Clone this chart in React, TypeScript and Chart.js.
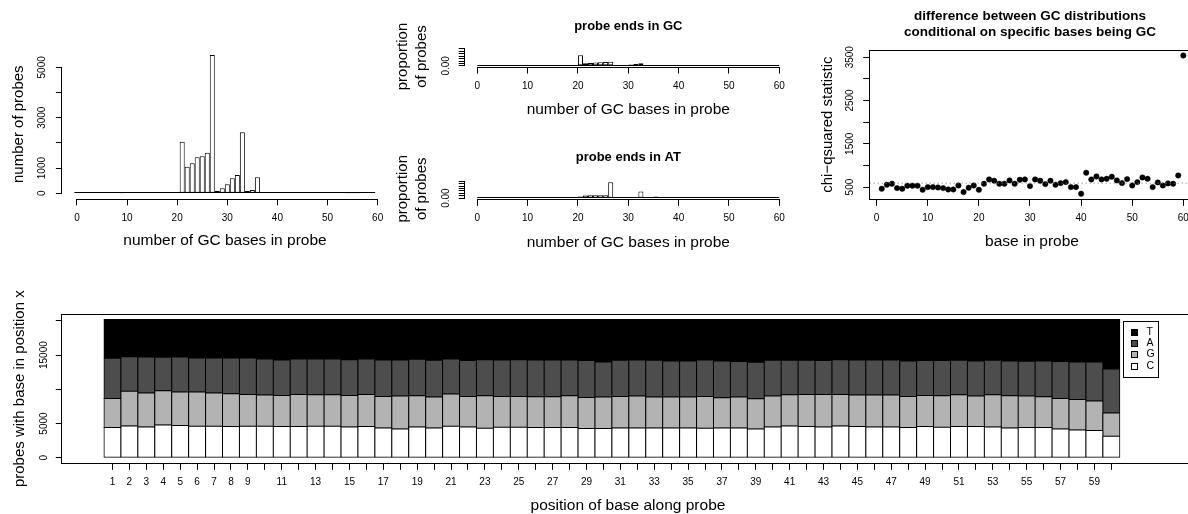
import React, { useEffect, useRef } from 'react';
import { Chart, registerables } from 'chart.js';

Chart.register(...registerables);

const FONT = '"Liberation Sans", Arial, Helvetica, sans-serif';

// ---------- Panel 1: number of GC bases per probe (bins centred on integers)
const gcBases = [0,1,2,3,4,5,6,7,8,9,10,11,12,13,14,15,16,17,18,19,20,21,22,23,24,25,26,27,28,29,30,31,32,33,34,35,36,37,38,39,40,41,42,43,44,45,46,47,48,49,50,51,52,53,54,55,56,57,58,59];
const probeCounts = [0,0,0,0,0,0,0,0,0,5,8,10,12,15,20,25,30,35,50,30,25,2050,1056,1190,1428,1468,1611,5488,103,198,357,595,726,2420,91,131,635,30,35,40,40,40,35,30,25,20,15,12,10,10,8,8,6,10,4,2,1,0,0,0];
const p1XTicks = [0,10,20,30,40,50,60];
const p1YTicks = [0,1000,2000,3000,4000,5000];
const p1YLabelled = [0,1000,3000,5000];

// ---------- Panel 2: GC distribution by probe end (bins (k-1, k])
const binUpper = [1,2,3,4,5,6,7,8,9,10,11,12,13,14,15,16,17,18,19,20,21,22,23,24,25,26,27,28,29,30,31,32,33,34,35,36,37,38,39,40,41,42,43,44,45,46,47,48,49,50,51,52,53,54,55,56,57,58,59,60];
const propEndsGC = [0,0,0,0,0,0,0,0,0,0,0.001,0.001,0.002,0.002,0.003,0.003,0.004,0.005,0.004,0.004,0.22,0.055,0.06,0.068,0.075,0.08,0.085,0.01,0.01,0.014,0.028,0.04,0.055,0.005,0.008,0.014,0.004,0.003,0.003,0.003,0.002,0.002,0.002,0.001,0.001,0,0,0,0,0,0,0,0,0,0,0,0,0,0,0];
const propEndsAT = [0,0,0,0,0,0,0,0,0,0,0.002,0.002,0.003,0.003,0.004,0.004,0.005,0.006,0.005,0.005,0.035,0.055,0.062,0.062,0.062,0.062,0.33,0.005,0.008,0.01,0.014,0.02,0.138,0.004,0.006,0.035,0.003,0.003,0.004,0.004,0.003,0.003,0.002,0.002,0.001,0,0,0,0,0,0,0,0,0,0,0,0,0,0,0];
const p2XTicks = [0,10,20,30,40,50,60];
const p2YTicks = [0,0.05,0.1,0.15,0.2,0.25,0.3,0.35];

// ---------- Panel 3: chi-squared statistic per base position
const positions = [1,2,3,4,5,6,7,8,9,10,11,12,13,14,15,16,17,18,19,20,21,22,23,24,25,26,27,28,29,30,31,32,33,34,35,36,37,38,39,40,41,42,43,44,45,46,47,48,49,50,51,52,53,54,55,56,57,58,59,60];
const chiSq = [462,554,577,477,462,531,531,531,438,500,500,492,477,446,446,538,385,485,538,438,577,677,646,577,577,654,577,669,677,523,677,646,569,646,554,592,615,500,500,346,831,677,746,677,692,738,654,592,685,538,615,723,692,500,608,538,585,577,769,3538];
const chiCritical = 590;
const p3XTicks = [0,10,20,30,40,50,60];
const p3YTicks = [500,1000,1500,2000,2500,3000,3500];
const p3YLabelled = [500,1500,2500,3500];

// ---------- Panel 4: base composition at each position
const countC = [4409,4651,4506,4797,4700,4603,4603,4554,4603,4603,4554,4554,4603,4603,4506,4554,4361,4215,4506,4361,4603,4506,4312,4457,4457,4409,4409,4409,4264,4264,4361,4361,4361,4361,4361,4312,4361,4361,4215,4506,4651,4554,4506,4651,4554,4506,4506,4409,4554,4457,4554,4554,4506,4361,4409,4409,4215,4070,3973,3149];
const countG = [4264,5087,4942,4990,4893,4990,4845,4797,4651,4554,4555,4700,4603,4603,4603,4700,4602,4797,4554,4506,4699,4457,4748,4506,4506,4506,4506,4651,4554,4603,4602,4651,4506,4506,4506,4651,4409,4506,4409,4506,4555,4700,4748,4603,4603,4651,4651,4554,4555,4603,4652,4458,4700,4699,4603,4506,4458,4457,4312,3392];
const countA = [5862,5039,5281,4893,5136,4991,5136,5233,5330,5281,5184,5184,5232,5232,5232,5184,5330,5281,5330,5377,5136,5233,5281,5330,5378,5378,5378,5233,5378,5135,5281,5281,5377,5280,5280,5330,5377,5183,5330,5232,5038,4990,4942,5087,5136,5136,5136,5184,5087,5136,5038,5135,5038,5087,5087,5232,5377,5475,5717,6444];
const countT = [5665,5423,5471,5520,5471,5616,5616,5616,5616,5762,5907,5762,5762,5762,5859,5762,5907,5907,5810,5956,5762,6004,5859,5907,5859,5907,5907,5907,6004,6198,5956,5907,5956,6053,6053,5907,6053,6150,6246,5956,5956,5956,6004,5859,5907,5907,5907,6053,6004,6004,5956,6053,5956,6053,6101,6053,6150,6198,6198,7215];
const baseNames = ['C', 'G', 'A', 'T'];
const baseColors = ['#ffffff', '#b3b3b3', '#4d4d4d', '#000000'];
const p4YTicks = [0,5000,10000,15000,20000];
const p4YLabelled = [0,5000,15000];

// ---------- styling constants
const TICK = 10;
const TL = 6.5;
const XGAP = 19.3;
const LAB = 15.5;
const VLAB = 15;

function textWidth(s: string, size: number): number {
  const ctx = document.createElement('canvas').getContext('2d') as CanvasRenderingContext2D;
  ctx.font = `${size}px ${FONT}`;
  return ctx.measureText(s).width;
}

const gridOpts = { display: true, offset: false, drawOnChartArea: false, drawTicks: true, tickLength: TL, color: '#000', lineWidth: 1 };

function xScale(min: number, max: number, ticks: number[], label: (v: number) => string, height: number, extra: any = {}) {
  return {
    type: 'linear', min, max, bounds: 'data', offset: false,
    afterBuildTicks: (s: any) => { s.ticks = ticks.map((v) => ({ value: v })); },
    afterFit: (s: any) => { s.height = height; },
    grid: gridOpts,
    border: { display: false },
    ticks: {
      autoSkip: false, minRotation: 0, maxRotation: 0,
      padding: XGAP - TL - TICK * 0.6,
      color: '#000', font: { family: FONT, size: TICK },
      callback: (v: any) => label(Number(v)),
    },
    ...extra,
  };
}

function yScale(min: number, max: number, ticks: number[], label: (v: number) => string, width: number, dist: number, extra: any = {}) {
  const widest = Math.max(...ticks.map((v) => textWidth(label(v), TICK)));
  return {
    type: 'linear', min, max, bounds: 'data',
    afterBuildTicks: (s: any) => { s.ticks = ticks.map((v) => ({ value: v })); },
    afterFit: (s: any) => { s.width = width; },
    grid: gridOpts,
    border: { display: false },
    ticks: {
      autoSkip: false, minRotation: 90, maxRotation: 90, crossAlign: 'center',
      padding: dist - TL - widest / 2,
      color: '#000', font: { family: FONT, size: TICK },
      callback: (v: any) => label(Number(v)),
    },
    ...extra,
  };
}

type Txt = { t: string; x: number; y: number; size: number; bold?: boolean; rot?: boolean };
type Legend = { box: [number, number, number, number]; rows: number[]; sqX: number; sq: number; txtX: number; size: number; items: { label: string; color: string }[] };
type Decor = { ox: number; oy: number; axisX?: [number, number]; axisY?: [number, number]; box?: boolean; baseline?: [number, number]; texts: Txt[]; legend?: Legend };

function decor(d: Decor) {
  return {
    id: 'rdecor',
    afterDatasetsDraw(chart: any) {
      if (!d.baseline) return;
      const { ctx, scales } = chart;
      const y = Math.round(scales.y.getPixelForValue(0)) - 0.5;
      ctx.save();
      ctx.strokeStyle = '#000';
      ctx.lineWidth = 1;
      ctx.beginPath();
      ctx.moveTo(scales.x.getPixelForValue(d.baseline[0]), y);
      ctx.lineTo(scales.x.getPixelForValue(d.baseline[1]), y);
      ctx.stroke();
      ctx.restore();
    },
    afterDraw(chart: any) {
      const { ctx, chartArea: a, scales } = chart;
      ctx.save();
      ctx.strokeStyle = '#000';
      ctx.lineWidth = 1;
      ctx.setLineDash([]);
      if (d.axisX) {
        const y = Math.round(a.bottom) + 0.5;
        const x0 = Math.round(scales.x.getPixelForValue(d.axisX[0]) - 0.5);
        const x1 = Math.round(scales.x.getPixelForValue(d.axisX[1]) - 0.5) + 1;
        ctx.beginPath(); ctx.moveTo(x0, y); ctx.lineTo(x1, y); ctx.stroke();
      }
      if (d.axisY) {
        const x = Math.round(a.left) - 0.5;
        const y0 = Math.round(scales.y.getPixelForValue(d.axisY[0]) - 0.5) + 1;
        const y1 = Math.round(scales.y.getPixelForValue(d.axisY[1]) - 0.5);
        ctx.beginPath(); ctx.moveTo(x, y0); ctx.lineTo(x, y1); ctx.stroke();
      }
      if (d.box) {
        const l = Math.round(a.left) - 0.5, t = Math.round(a.top) + 0.5;
        const r = Math.round(a.right) + 0.5, b = Math.round(a.bottom) + 0.5;
        ctx.strokeRect(l, t, r - l, b - t);
      }
      ctx.fillStyle = '#000';
      ctx.textAlign = 'center';
      ctx.textBaseline = 'middle';
      for (const t of d.texts) {
        ctx.save();
        ctx.font = `${t.bold ? 'bold ' : ''}${t.size}px ${FONT}`;
        ctx.translate(t.x - d.ox, t.y - d.oy);
        if (t.rot) ctx.rotate(-Math.PI / 2);
        ctx.fillText(t.t, 0, 0);
        ctx.restore();
      }
      if (d.legend) {
        const L = d.legend;
        const [bx0, by0, bx1, by1] = L.box;
        ctx.strokeRect(Math.round(bx0 - d.ox) + 0.5, Math.round(by0 - d.oy) + 0.5, Math.round(bx1 - bx0), Math.round(by1 - by0));
        ctx.font = `${L.size}px ${FONT}`;
        ctx.textAlign = 'left';
        L.items.forEach((it, i) => {
          const cy = L.rows[i] - d.oy;
          const sx = Math.round(L.sqX - d.ox - L.sq / 2) + 0.5;
          const sy = Math.round(cy - L.sq / 2) + 0.5;
          ctx.fillStyle = it.color;
          ctx.fillRect(sx, sy, L.sq, L.sq);
          ctx.strokeRect(sx, sy, L.sq, L.sq);
          ctx.fillStyle = '#000';
          ctx.fillText(it.label, L.txtX - d.ox, cy);
        });
      }
      ctx.restore();
    },
  };
}

function frame(ox: number, oy: number, cw: number, ch: number, L: number, R: number, T: number, B: number) {
  return {
    padding: { left: 0, top: T - oy, right: cw - (R - ox), bottom: 0 },
    yW: L - ox,
    xH: ch - (B - oy),
  };
}

function baseOptions(padding: any, scales: any) {
  return {
    responsive: false,
    maintainAspectRatio: false,
    animation: false,
    devicePixelRatio: 1,
    events: [],
    layout: { padding },
    plugins: { legend: { display: false }, title: { display: false }, tooltip: { enabled: false } },
    scales,
  };
}

const histStyle = {
  backgroundColor: '#ffffff', borderColor: '#000000', borderWidth: 1, borderSkipped: false,
  inflateAmount: 0, barPercentage: 1, categoryPercentage: 1,
};

function panel1(ox: number, oy: number, cw: number, ch: number) {
  const f = frame(ox, oy, cw, ch, 62.4, 387.2, 49.5, 198.8);
  return {
    type: 'bar',
    data: { datasets: [{ ...histStyle, data: gcBases.map((g, i) => ({ x: g, y: probeCounts[i] })) }] },
    options: baseOptions(f.padding, {
      x: xScale(-2.9, 61.9, p1XTicks, (v) => String(v), f.xH),
      y: yScale(-219.5, 5707.5, p1YTicks, (v) => (p1YLabelled.includes(v) ? String(v) : ''), f.yW, 20.5),
    }),
    plugins: [decor({
      ox, oy,
      axisX: [p1XTicks[0], p1XTicks[p1XTicks.length - 1]],
      axisY: [p1YTicks[0], p1YTicks[p1YTicks.length - 1]],
      baseline: [gcBases[0] - 0.5, gcBases[gcBases.length - 1] + 0.5],
      texts: [
        { t: 'number of GC bases in probe', x: 225, y: 241, size: LAB },
        { t: 'number of probes', x: 18.5, y: 124.2, size: VLAB, rot: true },
      ],
    })],
  };
}

function panel2(which: 'GC' | 'AT') {
  return (ox: number, oy: number, cw: number, ch: number) => {
    const isGC = which === 'GC';
    const props = isGC ? propEndsGC : propEndsAT;
    const T = isGC ? 46 : 178.3;
    const B = isGC ? 67 : 199.3;
    const f = frame(ox, oy, cw, ch, 465.2, 791.4, T, B);
    const midY = (T + B) / 2;
    return {
      type: 'bar',
      data: { datasets: [{ ...histStyle, data: binUpper.map((u, i) => ({ x: u - 0.5, y: props[i] })) }] },
      options: baseOptions(f.padding, {
        x: xScale(-2.4, 62.4, p2XTicks, (v) => String(v), f.xH),
        y: yScale(-0.024, 0.41, p2YTicks, (v) => (v === 0 ? '0.00' : ''), f.yW, 19.2),
      }),
      plugins: [decor({
        ox, oy,
        axisX: [p2XTicks[0], p2XTicks[p2XTicks.length - 1]],
        axisY: [p2YTicks[0], p2YTicks[p2YTicks.length - 1]],
        baseline: [binUpper[0] - 1, binUpper[binUpper.length - 1]],
        texts: [
          { t: isGC ? 'probe ends in GC' : 'probe ends in AT', x: 628.3, y: isGC ? 26.7 : 157.3, size: 13, bold: true },
          { t: 'number of GC bases in probe', x: 628.3, y: isGC ? 110 : 242.3, size: LAB },
          { t: 'proportion', x: 403, y: midY, size: VLAB, rot: true },
          { t: 'of probes', x: 421.5, y: midY, size: VLAB, rot: true },
        ],
      })],
    };
  };
}

const P3_XMIN = -1.36;
const P3_XMAX = 62.36;

function panel3(ox: number, oy: number, cw: number, ch: number) {
  const f = frame(ox, oy, cw, ch, 869.7, 1195.4, 50, 199.3);
  return {
    type: 'scatter',
    data: {
      datasets: [
        {
          type: 'line',
          data: [{ x: P3_XMIN, y: chiCritical }, { x: P3_XMAX, y: chiCritical }],
          borderColor: '#808080', borderWidth: 1, borderDash: [1, 3], pointRadius: 0, fill: false,
        },
        {
          data: positions.map((p, i) => ({ x: p, y: chiSq[i] })),
          backgroundColor: '#000', borderColor: '#000', borderWidth: 0.5, pointRadius: 2.7,
        },
      ],
    },
    options: baseOptions(f.padding, {
      x: xScale(P3_XMIN, P3_XMAX, p3XTicks, (v) => String(v), f.xH),
      y: yScale(218, 3666, p3YTicks, (v) => (p3YLabelled.includes(v) ? String(v) : ''), f.yW, 19.7),
    }),
    plugins: [decor({
      ox, oy,
      box: true,
      texts: [
        { t: 'difference between GC distributions', x: 1030, y: 16.7, size: 13.5, bold: true },
        { t: 'conditional on specific bases being GC', x: 1030, y: 32.3, size: 13.5, bold: true },
        { t: 'base in probe', x: 1032, y: 241.5, size: LAB },
        { t: 'chi\u2212qsuared statistic', x: 827.5, y: 124.6, size: VLAB, rot: true },
      ],
    })],
  };
}

function panel4(ox: number, oy: number, cw: number, ch: number) {
  const f = frame(ox, oy, cw, ch, 62.3, 1190.9, 314, 463.3);
  const series = [countC, countG, countA, countT];
  return {
    type: 'bar',
    data: {
      datasets: series.map((vals, k) => ({
        label: baseNames[k],
        data: positions.map((p, i) => ({ x: p, y: vals[i] })),
        backgroundColor: baseColors[k], borderColor: '#000', borderWidth: 1, borderSkipped: false,
        inflateAmount: 0.5, barPercentage: 1, categoryPercentage: 1,
      })),
    },
    options: baseOptions(f.padding, {
      x: xScale(-1.963, 64.7, positions, (v) => ((v <= 9 || v % 2 === 1) && v < 60 ? String(v) : ''), f.xH, { stacked: true }),
      y: yScale(-808, 21008, p4YTicks, (v) => (p4YLabelled.includes(v) ? String(v) : ''), f.yW, 18.3, { stacked: true }),
    }),
    plugins: [decor({
      ox, oy,
      box: true,
      texts: [
        { t: 'position of base along probe', x: 628, y: 505.7, size: LAB },
        { t: 'probes with base in position x', x: 20, y: 388.7, size: VLAB, rot: true },
      ],
      legend: {
        box: [1123, 320.7, 1158, 376.7],
        rows: [332, 343.3, 354.3, 365.7],
        sqX: 1134, sq: 6, txtX: 1146.5, size: 10.5,
        items: [3, 2, 1, 0].map((k) => ({ label: baseNames[k], color: baseColors[k] })),
      },
    })],
  };
}

type Maker = (ox: number, oy: number, cw: number, ch: number) => any;

function Panel({ x, y, w, h, cw, make }: { x: number; y: number; w: number; h: number; cw: number; make: Maker }) {
  const ref = useRef<HTMLCanvasElement | null>(null);
  useEffect(() => {
    const canvas = ref.current;
    if (!canvas) return;
    const chart = new Chart(canvas, make(x, y, cw, h));
    return () => chart.destroy();
  }, []);
  return (
    <div style={{ position: 'absolute', left: x, top: y, width: w, height: h, overflow: 'hidden' }}>
      <canvas ref={ref} width={cw} height={h} style={{ width: cw, height: h, display: 'block' }} />
    </div>
  );
}

export default function App() {
  return (
    <div style={{ position: 'absolute', left: 0, top: 0, width: 1188, height: 514, overflow: 'hidden', background: '#ffffff' }}>
      <Panel x={0} y={0} w={396} h={257} cw={396} make={panel1} />
      <Panel x={396} y={0} w={396} h={130} cw={400} make={panel2('GC')} />
      <Panel x={396} y={130} w={396} h={127} cw={400} make={panel2('AT')} />
      <Panel x={792} y={0} w={396} h={257} cw={420} make={panel3} />
      <Panel x={0} y={257} w={1188} h={257} cw={1200} make={panel4} />
    </div>
  );
}
